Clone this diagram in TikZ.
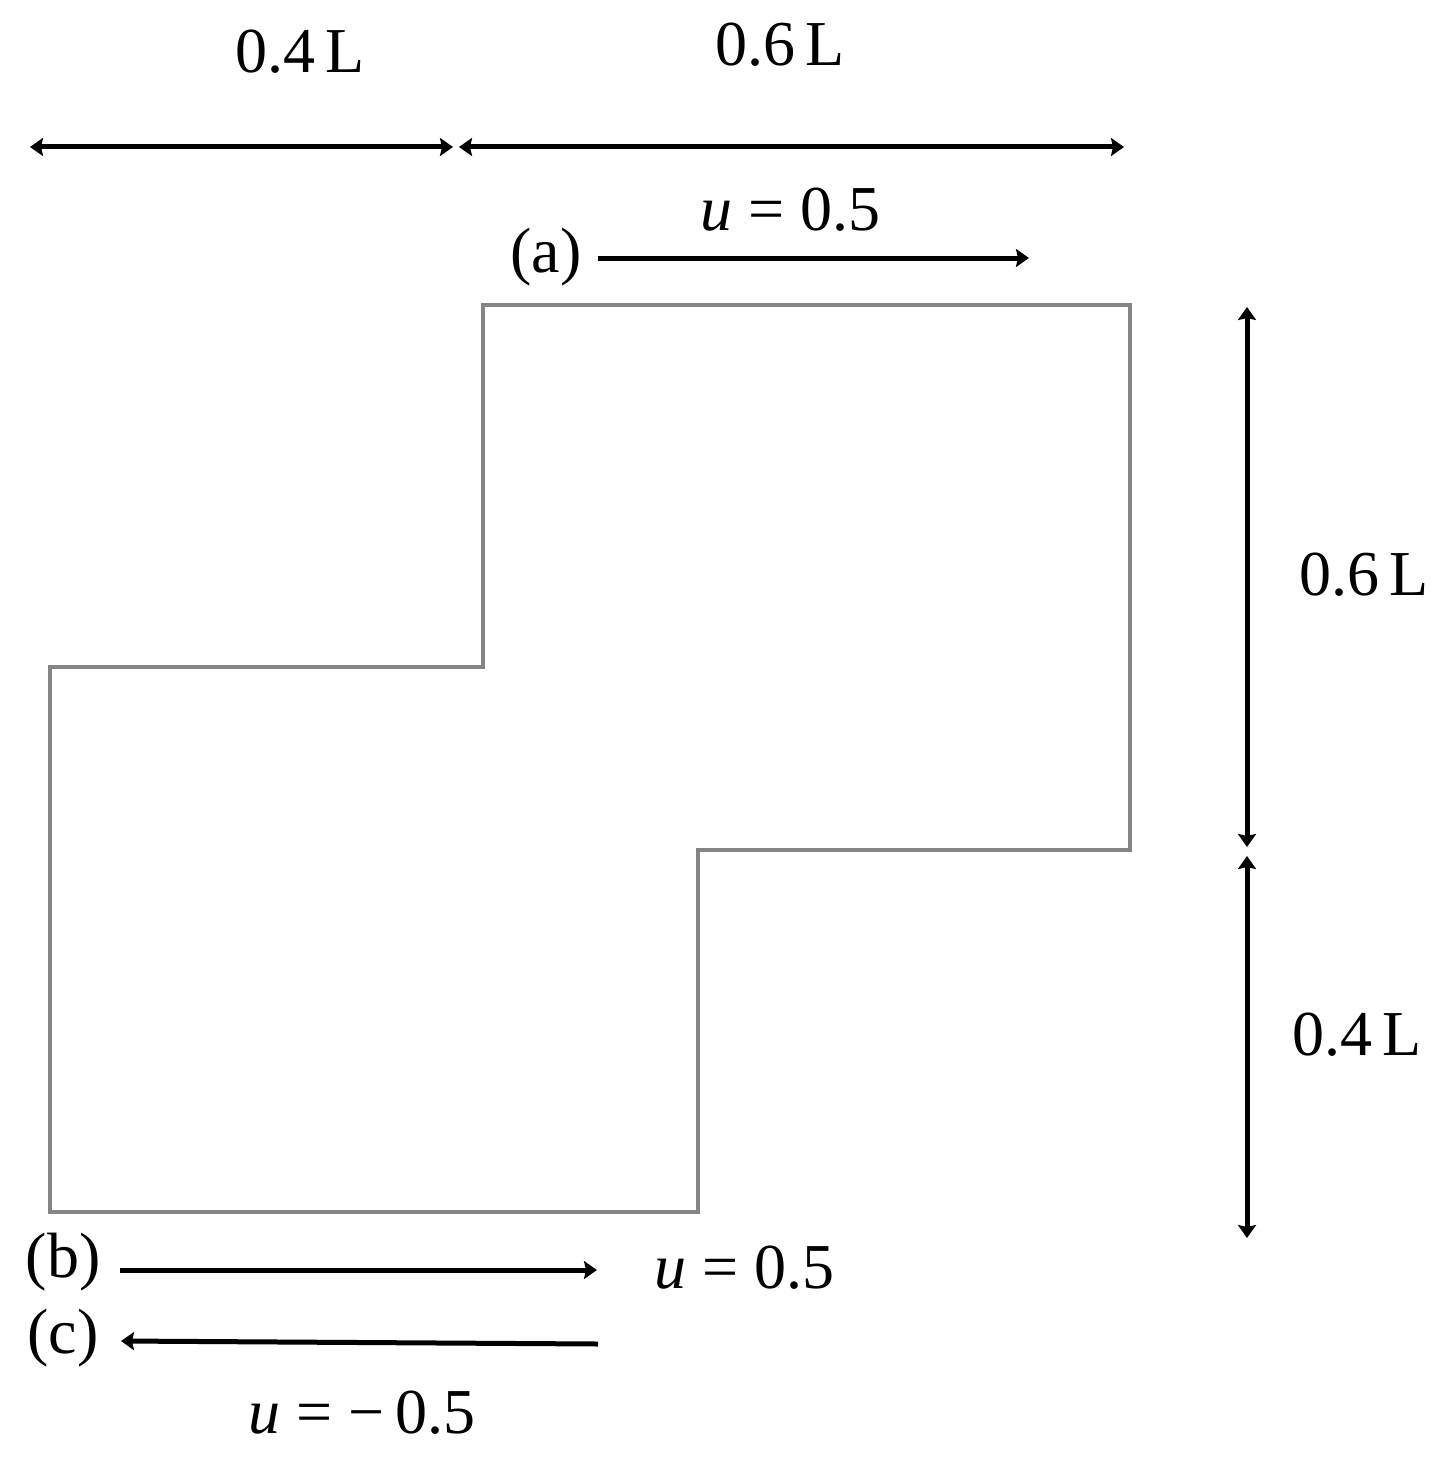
\documentclass[tikz,border=0pt]{standalone}
\usepackage{fontspec}
\setmainfont{Liberation Serif}
\usetikzlibrary{arrows.meta}
\begin{document}
\begin{tikzpicture}[x=1pt,y=-1pt,
  lbl/.style={inner sep=0pt,font=\fontsize{64}{72}\selectfont},
  tip/.tip={Stealth[length=13pt,width=18pt,inset=2pt]},
  dim/.style={line width=5pt,draw=black,tip-tip},
  flow/.style={line width=5pt,draw=black,-tip},
  wall/.style={line width=4.5pt,draw=black!48,line join=miter}]
\useasboundingbox (0,0) rectangle (1440,1458);
% domain
\draw[wall] (483,305) -- (1130,305) -- (1130,850) -- (698,850) -- (698,1212) -- (50,1212) -- (50,667) -- (483,667) -- cycle;
% top dimensions
\coordinate (t0) at (30,147);
\coordinate (t1) at (453,147);
\coordinate (t2) at (459,147);
\coordinate (t3) at (1124,147);
\draw[dim] (t0) -- (t1);
\draw[dim] (t2) -- (t3);
\node[lbl] (l04t) at (300,52) {0.4\,L};
\node[lbl] (l06t) at (780,45) {0.6\,L};
% right dimensions
\coordinate (r0) at (1247,307);
\coordinate (r1) at (1247,847);
\coordinate (r2) at (1247,856);
\coordinate (r3) at (1247,1238);
\draw[dim] (r0) -- (r1);
\draw[dim] (r2) -- (r3);
\node[lbl] (l06r) at (1364,575) {0.6\,L};
\node[lbl] (l04r) at (1357,1035) {0.4\,L};
% (a)
\node[lbl] (a) at (546,257) {(a)};
\coordinate (a0) at (598,258);
\coordinate (a1) at (1029,258);
\draw[flow] (a0) -- (a1);
\node[lbl] (ua) at (791,210) {$\mathit{u}$ = 0.5};
% (b)
\node[lbl] (b) at (63,1262) {(b)};
\coordinate (b0) at (120,1270);
\coordinate (b1) at (597,1270);
\draw[flow] (b0) -- (b1);
\node[lbl] (ub) at (745,1268) {$\mathit{u}$ = 0.5};
% (c)
\node[lbl] (c) at (63,1338) {(c)};
\coordinate (c0) at (598,1344);
\coordinate (c1) at (121,1341);
\draw[flow] (c0) -- (c1);
\node[lbl] (uc) at (362,1413) {$\mathit{u}$ = −\,0.5};
\end{tikzpicture}
\end{document}
